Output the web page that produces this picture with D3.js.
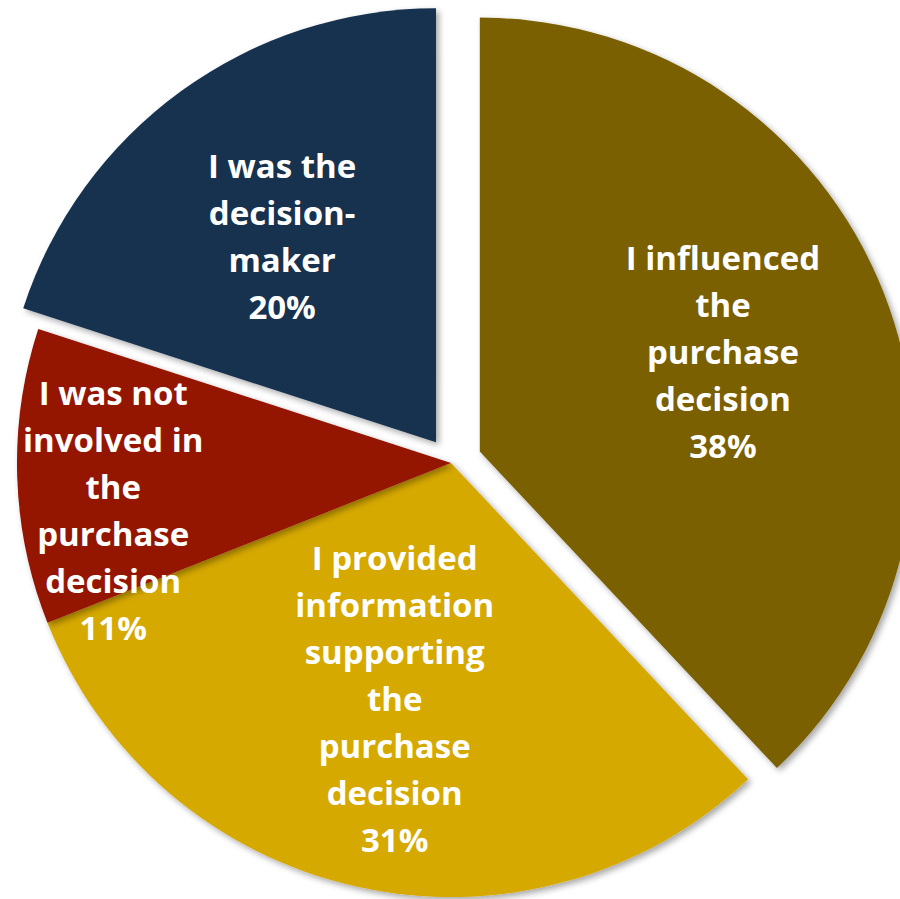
<!DOCTYPE html>
<html>
<head>
<meta charset="utf-8">
<script src="https://cdn.jsdelivr.net/npm/d3@7"></script>
<style>
  html, body { margin: 0; padding: 0; background: #ffffff; }
  svg { display: block; }
</style>
</head>
<body>
<svg id="chart" width="900" height="899"></svg>
<script>
// Role in the purchase decision (share of respondents, %)
const categories = [
  "I influenced the purchase decision",
  "I provided information supporting the purchase decision",
  "I was not involved in the purchase decision",
  "I was the decision-maker"
];
const values = [38, 31, 11, 20];
const labelLines = [
  ["I influenced", "the", "purchase", "decision"],
  ["I provided", "information", "supporting", "the", "purchase", "decision"],
  ["I was not", "involved in", "the", "purchase", "decision"],
  ["I was the", "decision-", "maker"]
];
const colors = ["#7a6000", "#d6a900", "#941200", "#14304f"];

// Layout
const width = 900, height = 899;
const cx = 451, cy = 463, radius = 434;
const explode = [31, 0, 0, 25.5];              // px pulled out along the slice's mid-angle
const labelRadius = [0.605, 0.56, 0.786, 0.592]; // fraction of radius for label centre
const labelNudge = [-0.6, 0.8, -6.2, -0.8];    // degrees off the mid-angle
const lineHeight = 47;
const fontSize = 33;

const svg = d3.select("#chart");

const defs = svg.append("defs");
const shadow = defs.append("filter")
  .attr("id", "sliceShadow")
  .attr("x", "-10%").attr("y", "-10%")
  .attr("width", "120%").attr("height", "120%");
shadow.append("feDropShadow")
  .attr("dx", 3).attr("dy", 3)
  .attr("stdDeviation", 3)
  .attr("flood-color", "#000")
  .attr("flood-opacity", 0.35);

const pie = d3.pie().sort(null).value(d => d);
const arcs = pie(values);
const arc = d3.arc().innerRadius(0).outerRadius(radius);

const root = svg.append("g").attr("transform", `translate(${cx},${cy})`);

function offsetOf(d, i) {
  const mid = (d.startAngle + d.endAngle) / 2;
  return [Math.sin(mid) * explode[i], -Math.cos(mid) * explode[i]];
}

const slices = root.selectAll("g.slice")
  .data(arcs)
  .join("g")
  .attr("class", "slice")
  .attr("transform", (d, i) => {
    const [ox, oy] = offsetOf(d, i);
    return `translate(${ox},${oy})`;
  });

slices.append("path")
  .attr("d", arc)
  .attr("fill", (d, i) => colors[i])
  .attr("filter", "url(#sliceShadow)");

slices.each(function (d, i) {
  const mid = (d.startAngle + d.endAngle) / 2 + labelNudge[i] * Math.PI / 180;
  const r = radius * labelRadius[i];
  const lx = Math.sin(mid) * r;
  const ly = -Math.cos(mid) * r;
  const lines = labelLines[i].concat([d3.format(".0f")(values[i]) + "%"]);
  const n = lines.length;
  const text = d3.select(this).append("text")
    .attr("text-anchor", "middle")
    .attr("fill", "#ffffff")
    .attr("font-family", "'Open Sans', Lato, sans-serif")
    .attr("font-weight", 700)
    .attr("font-size", fontSize);
  text.selectAll("tspan")
    .data(lines)
    .join("tspan")
    .attr("x", lx)
    .attr("y", (t, j) => ly + (j - (n - 1) / 2) * lineHeight + 12)
    .text(t => t);
});
</script>
</body>
</html>
